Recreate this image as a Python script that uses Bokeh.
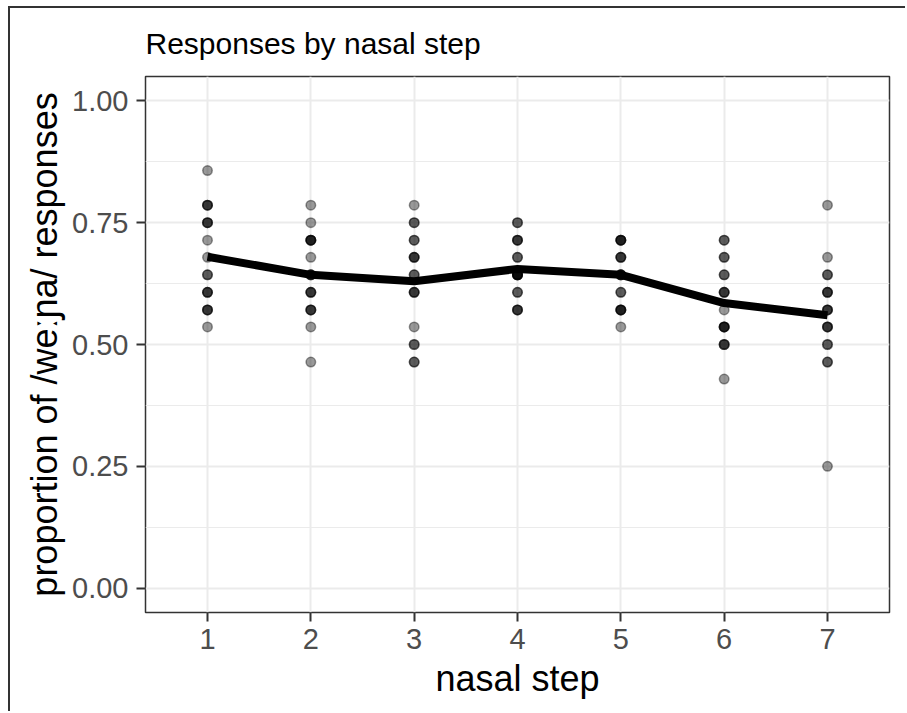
from bokeh.plotting import figure
from bokeh.models import FixedTicker, NumeralTickFormatter, ColumnDataSource
from bokeh.embed import file_html
from bokeh.resources import INLINE

# ---- data ----
steps = [1, 2, 3, 4, 5, 6, 7]
step1 = [0.857, 0.786, 0.786, 0.786, 0.750, 0.750, 0.750, 0.714, 0.679,
         0.643, 0.643, 0.607, 0.607, 0.607, 0.571, 0.571, 0.571, 0.536]
step2 = [0.786, 0.750, 0.714, 0.714, 0.714, 0.714, 0.679, 0.643, 0.643,
         0.643, 0.607, 0.607, 0.607, 0.571, 0.571, 0.571, 0.536, 0.464]
step3 = [0.786, 0.750, 0.750, 0.714, 0.714, 0.679, 0.679, 0.679, 0.643,
         0.643, 0.607, 0.607, 0.607, 0.536, 0.500, 0.500, 0.464, 0.464]
step4 = [0.750, 0.750, 0.714, 0.714, 0.714, 0.679, 0.679, 0.643, 0.643,
         0.643, 0.643, 0.643, 0.643, 0.607, 0.607, 0.571, 0.571, 0.571]
step5 = [0.714, 0.714, 0.714, 0.714, 0.679, 0.679, 0.679, 0.643, 0.643,
         0.643, 0.643, 0.607, 0.607, 0.571, 0.571, 0.571, 0.571, 0.536]
step6 = [0.714, 0.714, 0.679, 0.679, 0.643, 0.643, 0.607, 0.607, 0.607,
         0.571, 0.536, 0.536, 0.536, 0.536, 0.500, 0.500, 0.500, 0.429]
step7 = [0.786, 0.679, 0.643, 0.643, 0.607, 0.607, 0.607, 0.571, 0.571,
         0.571, 0.536, 0.536, 0.536, 0.500, 0.500, 0.464, 0.464, 0.250]
mean_prop = [0.680, 0.643, 0.630, 0.655, 0.643, 0.585, 0.560]
y_ticks = [0.0, 0.25, 0.5, 0.75, 1.0]
y_minor = [0.125, 0.375, 0.625, 0.875]

title_text = "Responses by nasal step"
x_title = "nasal step"
y_title = "proportion of /weːɲa/ responses"

FONT = "Liberation Sans"

all_steps = [step1, step2, step3, step4, step5, step6, step7]
px, py = [], []
for s, vals in zip(steps, all_steps):
    for v in vals:
        px.append(s)
        py.append(v)
pts = ColumnDataSource(dict(x=px, y=py))
line_src = ColumnDataSource(dict(x=steps, y=mean_prop))

p = figure(width=897, height=705, x_range=(0.4, 7.6), y_range=(-0.05, 1.05),
           output_backend="svg", toolbar_location=None,
           min_border_left=135, min_border_right=18,
           min_border_top=67, min_border_bottom=101,
           title=title_text)
p.styles = {"margin-left": "8px", "margin-top": "6px",
            "border-top": "2px solid #333333", "border-left": "2px solid #333333"}
p.background_fill_color = "white"
p.border_fill_color = "white"
p.outline_line_color = "#333333"
p.outline_line_width = 1.5

# title
p.title.text_font = FONT
p.title.text_font_size = "30px"
p.title.text_font_style = "normal"
p.title.text_color = "black"
p.title.align = "left"
p.title.standoff = 33

# grids
p.xgrid.ticker = FixedTicker(ticks=steps)
p.xgrid.grid_line_color = "#EBEBEB"
p.xgrid.grid_line_width = 2
p.ygrid.ticker = FixedTicker(ticks=y_ticks, minor_ticks=y_minor)
p.ygrid.grid_line_color = "#EBEBEB"
p.ygrid.grid_line_width = 2
p.ygrid.minor_grid_line_color = "#EBEBEB"
p.ygrid.minor_grid_line_width = 1

# axes
p.xaxis.ticker = FixedTicker(ticks=steps)
p.yaxis.ticker = FixedTicker(ticks=y_ticks, minor_ticks=y_minor)
p.yaxis.formatter = NumeralTickFormatter(format="0.00")
for ax in (p.xaxis, p.yaxis):
    ax.axis_line_color = None
    ax.major_tick_line_color = "#333333"
    ax.major_tick_line_width = 2
    ax.major_tick_out = 9
    ax.major_tick_in = 0
    ax.minor_tick_line_color = None
    ax.major_label_text_color = "#4D4D4D"
    ax.major_label_text_font = FONT
    ax.major_label_text_font_size = "29px"
    ax.axis_label_text_color = "black"
    ax.axis_label_text_font = FONT
    ax.axis_label_text_font_size = "36px"
    ax.axis_label_text_font_style = "normal"
p.xaxis.axis_label = x_title
p.yaxis.axis_label = y_title
p.xaxis.major_label_standoff = 7
p.yaxis.major_label_standoff = 8
p.xaxis.axis_label_standoff = 6
p.yaxis.axis_label_standoff = 4

# points
p.scatter("x", "y", source=pts, size=9.5, fill_color="black", fill_alpha=0.4,
          line_color="black", line_alpha=0.4, line_width=1.5)
# mean line
p.line("x", "y", source=line_src, line_color="black", line_width=8,
       line_cap="butt", line_join="round")

open("out.html", "w").write(file_html(p, INLINE))
